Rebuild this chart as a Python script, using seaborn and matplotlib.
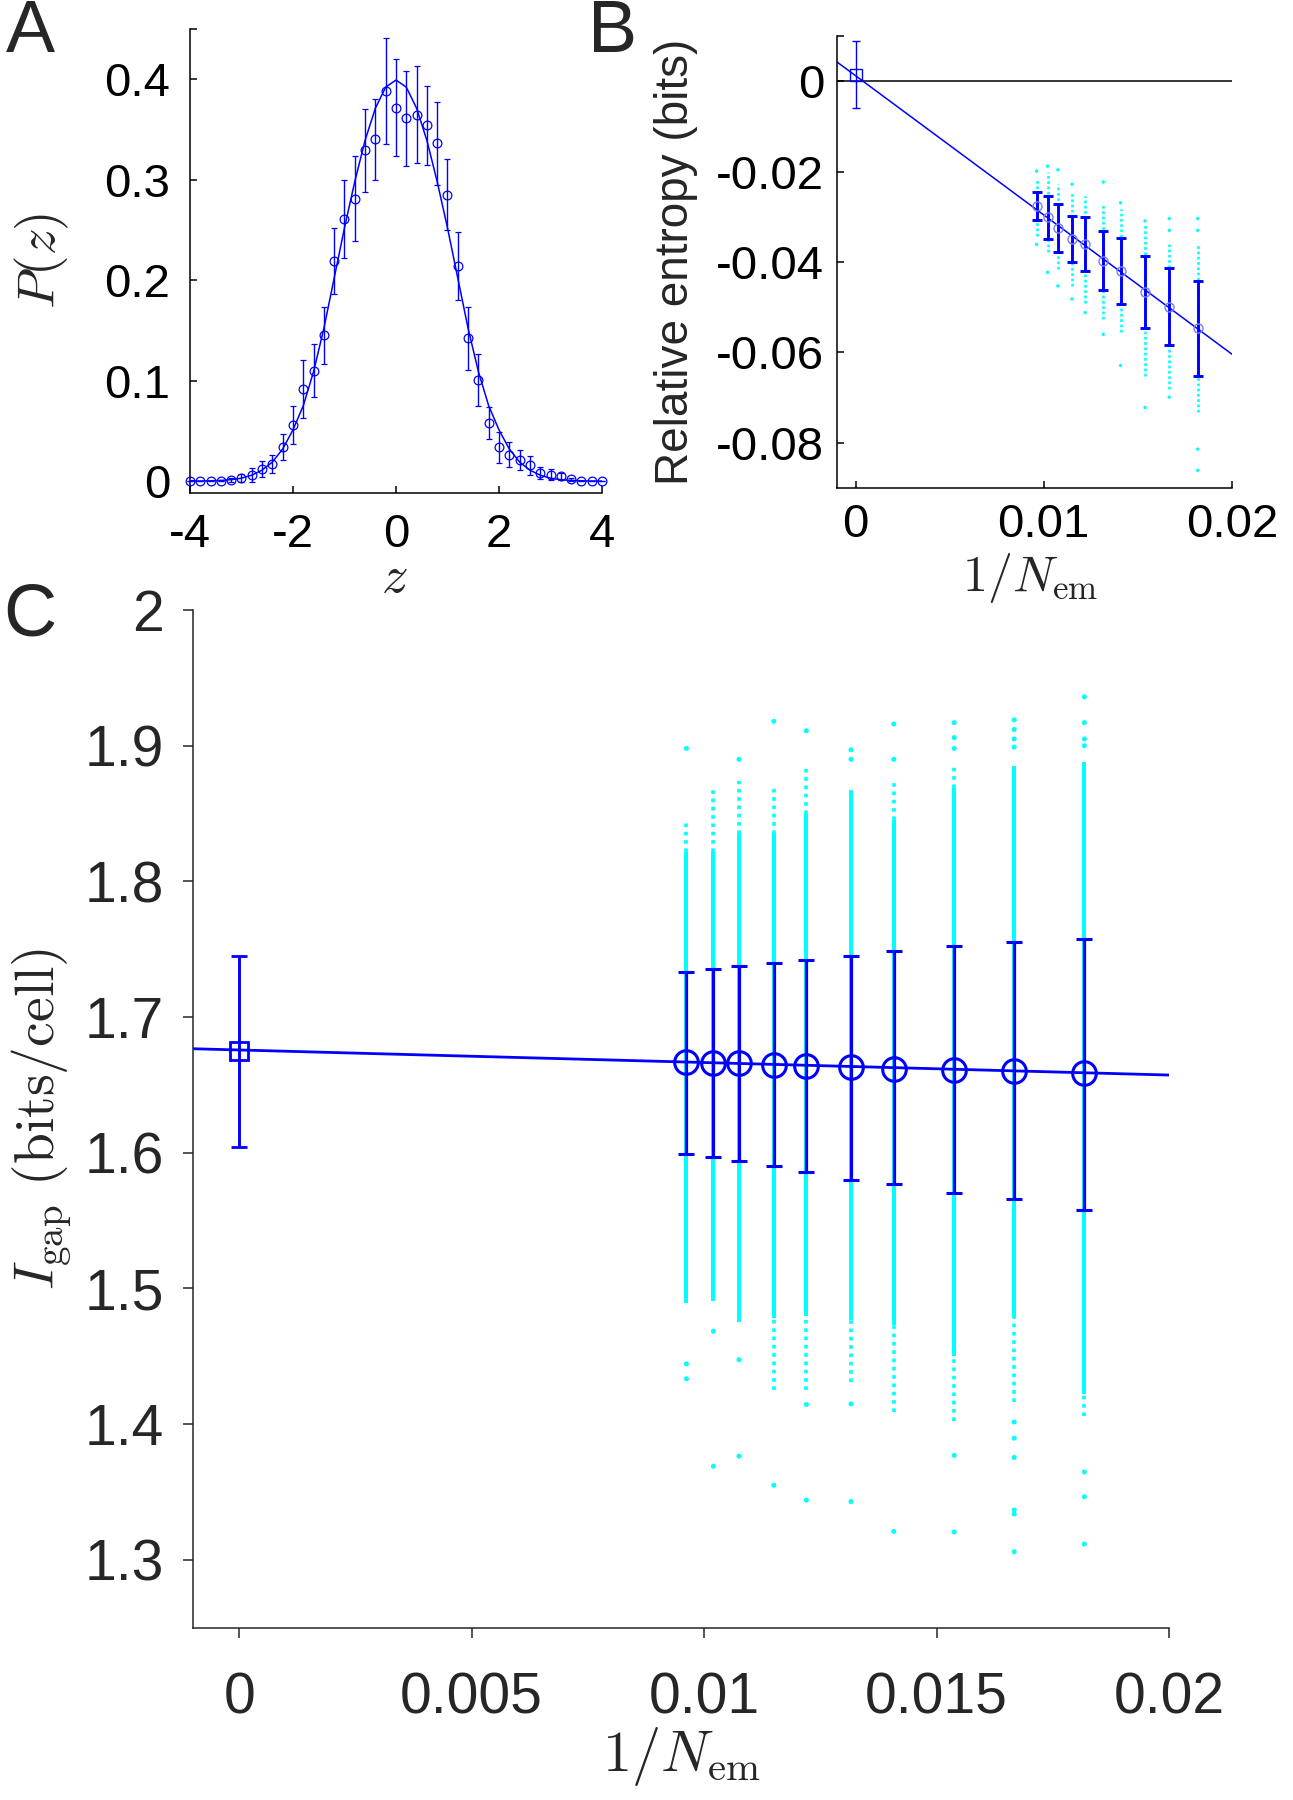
import numpy as np
import pandas as pd
import matplotlib
matplotlib.use("Agg")
import matplotlib.pyplot as plt
import seaborn as sns

# ---------------- Panel A data ----------------
a_z = [-4.0, -3.8, -3.6, -3.4, -3.2, -3.0, -2.8, -2.6, -2.4, -2.2, -2.0,
       -1.8, -1.6, -1.4, -1.2, -1.0, -0.8, -0.6, -0.4, -0.2, 0.0,
       0.2, 0.4, 0.6, 0.8, 1.0, 1.2, 1.4, 1.6, 1.8, 2.0,
       2.2, 2.4, 2.6, 2.8, 3.0, 3.2, 3.4, 3.6, 3.8, 4.0]
a_p = [0.0, 0.0, 0.0, 0.0, 0.001, 0.003, 0.006, 0.012, 0.017, 0.034, 0.056,
       0.092, 0.110, 0.145, 0.219, 0.261, 0.281, 0.329, 0.340, 0.388, 0.3715,
       0.361, 0.3646, 0.354, 0.336, 0.285, 0.214, 0.142, 0.101, 0.058, 0.034,
       0.0265, 0.021, 0.016, 0.008, 0.0066, 0.005, 0.0017, 0.0005, 0.0, 0.0]
a_err = [0.0, 0.0, 0.0, 0.0, 0.002, 0.004, 0.007, 0.008, 0.009, 0.013, 0.019,
         0.029, 0.026, 0.028, 0.033, 0.039, 0.042, 0.041, 0.040, 0.053, 0.0485,
         0.047, 0.0485, 0.039, 0.041, 0.0354, 0.0338, 0.0316, 0.0258, 0.016, 0.0154,
         0.012, 0.010, 0.0094, 0.006, 0.0055, 0.0035, 0.0017, 0.0, 0.0, 0.0]
a_fit = [0.0001, 0.0002, 0.0004, 0.0008, 0.0015, 0.003, 0.006, 0.011, 0.019, 0.032, 0.051,
         0.075, 0.109, 0.152, 0.202, 0.252, 0.298, 0.339, 0.371, 0.392, 0.399,
         0.392, 0.371, 0.339, 0.298, 0.252, 0.202, 0.152, 0.109, 0.075, 0.051,
         0.032, 0.019, 0.011, 0.006, 0.003, 0.0015, 0.0008, 0.0004, 0.0002, 0.0001]
a_xticks = [-4, -2, 0, 2, 4]
a_yticks = [0, 0.1, 0.2, 0.3, 0.4]
a_yticklabels = ["0", "0.1", "0.2", "0.3", "0.4"]

# ---------------- shared x (1/N_em) ----------------
x_em = [0.00962, 0.0102, 0.01075, 0.0115, 0.0122, 0.01316, 0.01408, 0.01538, 0.01667, 0.01818]

# ---------------- Panel B data ----------------
b_mean = [-0.0276, -0.0301, -0.0324, -0.0349, -0.0361, -0.0397, -0.0420, -0.0466, -0.0499, -0.0547]
b_err = [0.0030, 0.0048, 0.0053, 0.0051, 0.0060, 0.0066, 0.0072, 0.0080, 0.0085, 0.0105]
b_sq_x = [0.0]
b_sq_y = [0.0014]
b_sq_err = [0.0074]
b_fit_x = [-0.001, 0.02]
b_fit_y = [0.0043, -0.0604]
b_zero_x = [-0.001, 0.02]
b_zero_y = [0.0, 0.0]
b_cloud_hi = [-0.0217, -0.0202, -0.0228, -0.0247, -0.0255, -0.0269, -0.0283, -0.0313, -0.0361, -0.0357]
b_cloud_lo = [-0.0342, -0.0379, -0.0416, -0.0453, -0.0490, -0.0526, -0.0556, -0.0652, -0.0681, -0.0733]
b_outliers = [[-0.0199, -0.0361], [-0.0188, -0.0423], [-0.0196, -0.0453], [-0.0228, -0.0482],
              [-0.0512], [-0.0223, -0.0560], [-0.0269, -0.0629], [-0.0309, -0.0722],
              [-0.0304, -0.0330, -0.0699], [-0.0304, -0.0330, -0.0814, -0.0861]]
b_xticks = [0, 0.01, 0.02]
b_xticklabels = ["0", "0.01", "0.02"]
b_yticks = [-0.08, -0.06, -0.04, -0.02, 0]
b_yticklabels = ["-0.08", "-0.06", "-0.04", "-0.02", "0"]

# ---------------- Panel C data ----------------
c_mean = [1.667, 1.666, 1.666, 1.665, 1.664, 1.663, 1.662, 1.661, 1.660, 1.6588]
c_hi = [1.7334, 1.7355, 1.7379, 1.7399, 1.7423, 1.7453, 1.7486, 1.7527, 1.7557, 1.7578]
c_lo = [1.5990, 1.5967, 1.5937, 1.5901, 1.5857, 1.5803, 1.5767, 1.5707, 1.5663, 1.5582]
c_sq_x = [0.0]
c_sq_y = [1.675]
c_sq_hi = [1.745]
c_sq_lo = [1.604]
c_fit_x = [-0.001, 0.02]
c_fit_y = [1.6767, 1.6573]
c_core_hi = [1.822, 1.822, 1.835, 1.835, 1.850, 1.866, 1.845, 1.869, 1.885, 1.888]
c_core_lo = [1.489, 1.4905, 1.4755, 1.478, 1.480, 1.477, 1.473, 1.4505, 1.4788, 1.422]
c_dot_hi = [1.845, 1.868, 1.874, 1.869, 1.883, 1.867, 1.875, 1.887, 1.885, 1.888]
c_dot_lo = [1.489, 1.4905, 1.4755, 1.425, 1.425, 1.431, 1.4087, 1.402, 1.4161, 1.4063]
c_outliers = [[1.898, 1.4445, 1.4335],
              [1.4685, 1.369],
              [1.890, 1.4475, 1.3765],
              [1.918, 1.355],
              [1.911, 1.4145, 1.344],
              [1.897, 1.890, 1.415, 1.343],
              [1.916, 1.890, 1.321],
              [1.917, 1.906, 1.898, 1.377, 1.3206],
              [1.919, 1.912, 1.905, 1.899, 1.4016, 1.3897, 1.3755, 1.3368, 1.3338, 1.306],
              [1.936, 1.917, 1.905, 1.900, 1.3648, 1.3465, 1.3117]]
c_xticks = [0, 0.005, 0.01, 0.015, 0.02]
c_xticklabels = ["0", "0.005", "0.01", "0.015", "0.02"]
c_yticks = [1.3, 1.4, 1.5, 1.6, 1.7, 1.8, 1.9, 2.0]
c_yticklabels = ["1.3", "1.4", "1.5", "1.6", "1.7", "1.8", "1.9", "2"]

# ---------------- style ----------------
sns.set_style("ticks")
plt.rcParams['font.family'] = ['Liberation Sans', 'DejaVu Sans']
plt.rcParams['mathtext.fontset'] = 'cm'
plt.rcParams['axes.unicode_minus'] = False

BLUE = '#0000FF'
CYAN = '#00FFFF'

fig = plt.figure(figsize=(12.93, 18), dpi=100)
axA = fig.add_axes([0.1469, 0.7263, 0.3187, 0.2577])
axB = fig.add_axes([0.6471, 0.7289, 0.3057, 0.2511])
axC = fig.add_axes([0.1490, 0.0957, 0.7551, 0.5654])

for ax in (axA, axB, axC):
    ax.spines['top'].set_visible(False)
    ax.spines['right'].set_visible(False)
    ax.set_facecolor('white')

# ---------------- Panel A ----------------
sns.lineplot(x=a_z, y=a_fit, ax=axA, color=BLUE, linewidth=1.1, zorder=2)
axA.errorbar(a_z, a_p, yerr=a_err, fmt='o', ms=6.3, mfc='none', mec=BLUE, mew=0.9,
             ecolor=BLUE, elinewidth=1.0, capsize=2.3, capthick=1.0, clip_on=False, zorder=3)
axA.set_xlim(-4, 4)
axA.set_ylim(-0.0114, 0.45)
axA.set_xticks(a_xticks)
axA.set_xticklabels([str(t) for t in a_xticks])
axA.set_yticks(a_yticks + [0.45])
axA.set_yticklabels(a_yticklabels + [""])
axA.tick_params(direction='in', length=5, width=1.1, labelsize=34, colors='black')
axA.tick_params(axis='x', pad=15)
axA.tick_params(axis='y', pad=14)
for s in ('left', 'bottom'):
    axA.spines[s].set_linewidth(1.1)
    axA.spines[s].set_color('black')
axA.set_xlabel(r'$z$', fontsize=38, va='center')
axA.set_ylabel(r'$P(z)$', fontsize=38, va='center')
axA.xaxis.set_label_coords(0.497, -0.184)
axA.yaxis.set_label_coords(-0.359, 0.5)

# ---------------- Panel B ----------------
axB.vlines(x_em, b_cloud_lo, b_cloud_hi, colors=CYAN, linewidth=1.9,
           linestyles=[(0, (1.0, 1.0))], zorder=1)
b_out_df = pd.DataFrame({'x': [x_em[i] for i, v in enumerate(b_outliers) for _ in v],
                         'y': [y for v in b_outliers for y in v]})
sns.scatterplot(data=b_out_df, x='x', y='y', ax=axB, color=CYAN, s=6, edgecolor='none',
                linewidth=0, zorder=1)
sns.lineplot(x=b_zero_x, y=b_zero_y, ax=axB, color='black', linewidth=1.1, zorder=2)
sns.lineplot(x=b_fit_x, y=b_fit_y, ax=axB, color=BLUE, linewidth=1.1, zorder=2)
axB.errorbar(x_em, b_mean, yerr=b_err, fmt='none', ecolor=BLUE, elinewidth=2.1,
             capsize=3.3, capthick=2.1, zorder=3)
axB.plot(x_em, b_mean, 'o', ms=6.5, mfc='none', mec='#7a7aff', mew=1.0, zorder=4)
axB.errorbar(b_sq_x, b_sq_y, yerr=b_sq_err, fmt='s', ms=8, mfc='none', mec=BLUE, mew=1.0,
             ecolor=BLUE, elinewidth=1.0, capsize=3.0, capthick=1.0, zorder=3)
axB.set_xlim(-0.001, 0.02)
axB.set_ylim(-0.09, 0.01)
axB.set_xticks(b_xticks)
axB.set_xticklabels(b_xticklabels)
axB.set_yticks(b_yticks + [0.01])
axB.set_yticklabels(b_yticklabels + [""])
axB.tick_params(direction='in', length=5, width=1.1, labelsize=34, colors='black')
axB.tick_params(axis='x', pad=11)
axB.tick_params(axis='y', pad=9)
for s in ('left', 'bottom'):
    axB.spines[s].set_linewidth(1.1)
    axB.spines[s].set_color('black')
axB.set_xlabel(r'$1/N_{\rm em}$', fontsize=36, va='center')
axB.set_ylabel('Relative entropy (bits)', fontsize=33, va='center')
axB.xaxis.set_label_coords(0.49, -0.199)
axB.yaxis.set_label_coords(-0.4075, 0.5)

# ---------------- Panel C ----------------
axC.vlines(x_em, c_core_lo, c_core_hi, colors=CYAN, linewidth=2.9, zorder=1)
axC.vlines(x_em, c_core_hi, c_dot_hi, colors=CYAN, linewidth=2.6,
           linestyles=[(0, (1.0, 1.3))], zorder=1)
axC.vlines(x_em, c_dot_lo, c_core_lo, colors=CYAN, linewidth=2.6,
           linestyles=[(0, (1.0, 1.3))], zorder=1)
c_out_df = pd.DataFrame({'x': [x_em[i] for i, v in enumerate(c_outliers) for _ in v],
                         'y': [y for v in c_outliers for y in v]})
sns.scatterplot(data=c_out_df, x='x', y='y', ax=axC, color=CYAN, s=13, edgecolor='none',
                linewidth=0, zorder=1)
sns.lineplot(x=c_fit_x, y=c_fit_y, ax=axC, color=BLUE, linewidth=2.0, zorder=2)
c_mean_arr = np.array(c_mean)
c_yerr = [c_mean_arr - np.array(c_lo), np.array(c_hi) - c_mean_arr]
axC.errorbar(x_em, c_mean, yerr=c_yerr, fmt='o', ms=17, mfc='none', mec=BLUE, mew=2.2,
             ecolor=BLUE, elinewidth=2.3, capsize=6.0, capthick=2.3, zorder=3)
sq_yerr = [[c_sq_y[0] - c_sq_lo[0]], [c_sq_hi[0] - c_sq_y[0]]]
axC.errorbar(c_sq_x, c_sq_y, yerr=sq_yerr, fmt='s', ms=12.5, mfc='none', mec=BLUE, mew=2.0,
             ecolor=BLUE, elinewidth=2.1, capsize=6.0, capthick=2.1, zorder=3)
axC.set_xlim(-0.001, 0.02)
axC.set_ylim(1.25, 2.0)
axC.set_xticks(c_xticks)
axC.set_xticklabels(c_xticklabels)
axC.set_yticks(c_yticks)
axC.set_yticklabels(c_yticklabels)
CGRAY = '#262626'
axC.tick_params(direction='out', length=7.5, width=1.1, labelsize=41, colors=CGRAY)
axC.tick_params(axis='x', pad=24)
axC.tick_params(axis='y', pad=13)
for s in ('left', 'bottom'):
    axC.spines[s].set_linewidth(1.1)
    axC.spines[s].set_color(CGRAY)
axC.set_xlabel(r'$1/N_{\rm em}$', fontsize=42, va='center', color=CGRAY)
axC.set_ylabel(r'$I_{\rm gap}\ ({\rm bits/cell})$', fontsize=40, va='center', color=CGRAY)
axC.xaxis.set_label_coords(0.50, -0.127)
axC.yaxis.set_label_coords(-0.154, 0.50)

# ---------------- panel letters ----------------
fig.text(0.0232, 0.9822, 'A', fontsize=53, ha='center', va='center')
fig.text(0.4740, 0.9822, 'B', fontsize=53, ha='center', va='center')
fig.text(0.0232, 0.6578, 'C', fontsize=53, ha='center', va='center')

fig.savefig('out.png', dpi=100, facecolor='white')
